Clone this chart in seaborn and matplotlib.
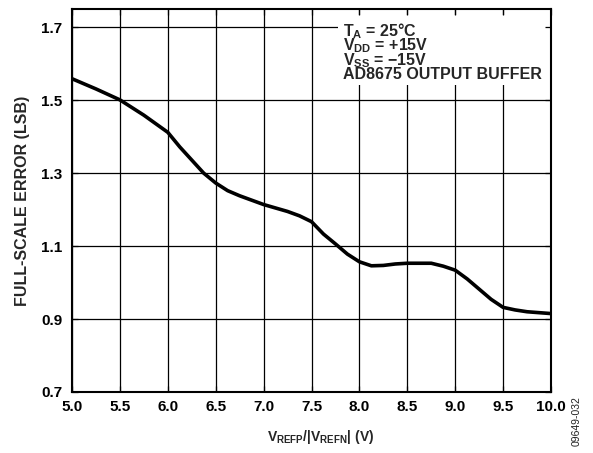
import matplotlib
matplotlib.use("Agg")
import matplotlib.pyplot as plt
from matplotlib.patches import Rectangle
import seaborn as sns
import pandas as pd

# values
vref = [5.0, 5.25, 5.5, 5.75, 6.0, 6.125, 6.25, 6.375, 6.5, 6.625, 6.75,
        7.0, 7.25, 7.375, 7.5, 7.625, 7.75, 7.875, 8.0, 8.125, 8.25, 8.375,
        8.5, 8.75, 8.875, 9.0, 9.125, 9.25, 9.375, 9.5, 9.625, 9.75, 10.0]
fs_error = [1.559, 1.531, 1.501, 1.459, 1.412, 1.372, 1.336, 1.300, 1.273, 1.252, 1.238,
            1.214, 1.195, 1.183, 1.167, 1.133, 1.106, 1.078, 1.057, 1.046, 1.047, 1.051,
            1.053, 1.053, 1.045, 1.034, 1.010, 0.982, 0.954, 0.932, 0.925, 0.920, 0.915]
x_ticks = [5.0, 5.5, 6.0, 6.5, 7.0, 7.5, 8.0, 8.5, 9.0, 9.5, 10.0]
y_ticks = [0.7, 0.9, 1.1, 1.3, 1.5, 1.7]
notes = ["T$_\\mathrm{A}$ = 25°C", "V$_\\mathrm{DD}$ = +15V",
         "V$_\\mathrm{SS}$ = \u221215V", "AD8675 OUTPUT BUFFER"]

sns.set_theme(style="ticks")
plt.rcParams['font.family'] = ['Liberation Sans', 'DejaVu Sans']
plt.rcParams['font.weight'] = 'bold'
plt.rcParams['mathtext.fontset'] = 'custom'
plt.rcParams['mathtext.rm'] = 'Liberation Sans:bold'
plt.rcParams['mathtext.it'] = 'Liberation Sans:bold'
plt.rcParams['mathtext.bf'] = 'Liberation Sans:bold'

df = pd.DataFrame({'v': vref, 'err': fs_error})

fig = plt.figure(figsize=(5.93, 4.53), dpi=100)
ax = fig.add_axes([0.1214, 0.1347, 0.8078, 0.8453])
ax.set_axisbelow(False)

for xv in x_ticks:
    ax.axvline(xv, color='black', lw=0.9, zorder=1)
for yv in y_ticks:
    ax.axhline(yv, color='black', lw=0.9, zorder=1)

# white box behind the conditions text
ax.add_patch(Rectangle((0.555, 0.802), 0.445, 0.182, transform=ax.transAxes,
                       facecolor='white', edgecolor='none', zorder=2))
ax.text(0.566, 0.969, "\n".join(notes), transform=ax.transAxes, ha='left',
        va='top', fontsize=11.5, fontweight='bold', linespacing=0.72, zorder=2.1)

sns.lineplot(data=df, x='v', y='err', color='black', lw=2.6, ax=ax, zorder=4)
ax.lines[-1].set_solid_joinstyle('round')
ax.lines[-1].set_solid_capstyle('butt')

ax.set_xlim(5.0, 10.0)
ax.set_ylim(0.7, 1.75)
ax.set_xticks(x_ticks)
ax.set_xticklabels([f"{t:.1f}" for t in x_ticks])
ax.set_yticks(y_ticks)
ax.set_yticklabels([f"{t:.1f}" for t in y_ticks])
ax.tick_params(axis='both', labelsize=11, direction='in', length=4, width=0.9,
               top=True, right=True, colors='black')
ax.tick_params(axis='x', pad=6)
ax.tick_params(axis='y', pad=7)
for lab in ax.get_xticklabels() + ax.get_yticklabels():
    lab.set_fontweight('bold')
for sp in ax.spines.values():
    sp.set_visible(True)
    sp.set_linewidth(1.5)
    sp.set_color('black')

ax.set_xlabel("V$_\\mathrm{REFP}$/|V$_\\mathrm{REFN}$| (V)", fontsize=10,
              fontweight='bold', labelpad=10, x=0.519)
ax.set_ylabel("FULL-SCALE ERROR (LSB)", fontsize=11.5, fontweight='bold', labelpad=8)

fig.text(0.973, 0.071, "09649-032", rotation=90, fontsize=7.5, fontweight='normal',
         ha='center', va='center', color='#222222')

fig.savefig("out.png", dpi=100)
